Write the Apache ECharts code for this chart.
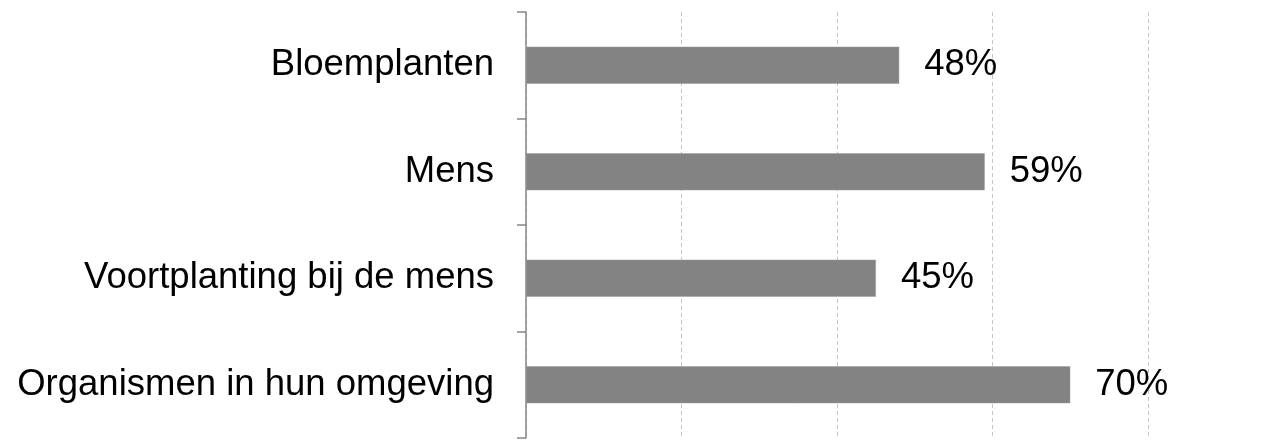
<!DOCTYPE html>
<html>
<head>
<meta charset="utf-8">
<script src="https://cdn.jsdelivr.net/npm/echarts@6/dist/echarts.min.js"></script>
<style>
html,body{margin:0;padding:0;background:#fff;}
#chart{width:1287px;height:441px;}
</style>
</head>
<body>
<div id="chart"></div>
<script>
const categories = ["Bloemplanten", "Mens", "Voortplanting bij de mens", "Organismen in hun omgeving"];
const values = [48, 59, 45, 70];
const xTicks = [0, 20, 40, 60, 80];

const chart = echarts.init(document.getElementById('chart'), null, {renderer: 'canvas'});
chart.setOption({
  animation: false,
  backgroundColor: '#ffffff',
  grid: {left: 526, right: 139, top: 12, bottom: 3, containLabel: false},
  xAxis: {
    type: 'value',
    min: xTicks[0],
    max: xTicks[xTicks.length - 1],
    interval: 20,
    axisLine: {show: false},
    axisTick: {show: false},
    axisLabel: {show: false},
    splitLine: {show: true, lineStyle: {color: '#c4c4c4', width: 1, type: [4, 3]}}
  },
  yAxis: {
    type: 'category',
    data: categories,
    inverse: true,
    axisLine: {show: true, lineStyle: {color: '#868686', width: 1.5}},
    axisTick: {show: true, length: 9, lineStyle: {color: '#868686', width: 1.5}},
    axisLabel: {margin: 32, color: '#000', fontFamily: 'Liberation Sans, Arial, sans-serif', fontSize: 36.5}
  },
  series: [{
    type: 'bar',
    data: values,
    barWidth: 37,
    itemStyle: {color: '#838383', borderColor: '#9a9a9a', borderWidth: 0.5},
    label: {
      show: true,
      position: 'right',
      distance: 25,
      formatter: '{c}%',
      color: '#000',
      fontFamily: 'Liberation Sans, Arial, sans-serif',
      fontSize: 36.5
    }
  }]
});
</script>
</body>
</html>
